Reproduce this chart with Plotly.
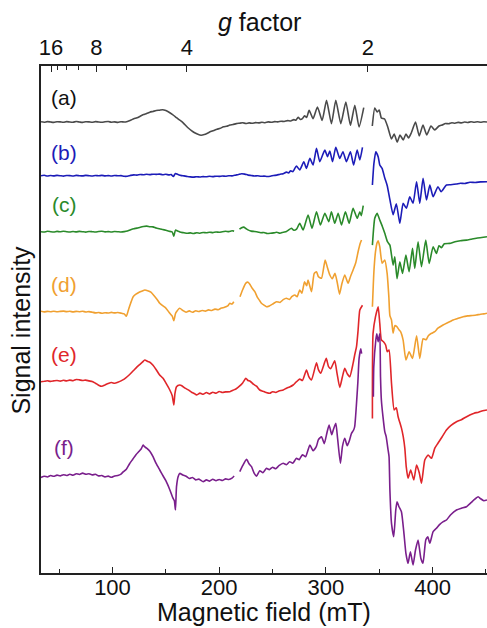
import plotly.graph_objects as go

# ---------------- data ----------------
labels = ["(a)", "(b)", "(c)", "(d)", "(e)", "(f)"]
colors = ["#4a4a4a", "#1c1cb8", "#2a8a2a", "#f0a030", "#e0262a", "#7a1f8c"]
offsets = [451.0, 397.3, 341.3, 261.3, 191.3, 96.3]
label_field = [55, 55, 55, 55, 55, 55]
label_level = [476, 421, 369, 289, 219, 126]

field_a = [33, 36, 39, 42, 45, 48, 51, 54, 57, 60, 63, 66, 69, 72, 75, 78, 81, 84, 87, 90, 93, 96, 99, 102, 105, 108, 111, 114, 117, 120, 123, 126, 129, 132, 135, 138, 141, 144, 147, 150, 153, 156, 159, 162, 165, 168, 171, 174, 177, 180, 183, 186, 189, 192, 195, 198, 201, 204, 207, 210, 213, 216, 219, 222, 225, 228, 231, 234, 237, 240, 243, 246, 249, 252, 255, 258, 261, 264, 267, 270, 272, 274, 276, 278, 280, 282,
           284.3, 288, 292.1, 296.5, 300.6, 305.2, 309.3, 314, 318.7, 323, 327.1, 331.1, 335.5, None,
           343.5, 345.8, 348, 350, 352, 355, 358, 361.5, 364, 366.8, 369.5, 372.5, 375, 377.5, 380, 384, 387.5, 391, 394.5, 398.5, 402, 406, 409, 412, 415, 418, 421, 424, 427, 430, 433, 436, 439, 442, 445, 448, 451]
signal_a = [0.2, -0.3, 0.4, 0, -0.4, 0.3, 0.1, -0.3, 0.4, 0, -0.2, 0.5, 0, -0.4, 0.3, 0.1, -0.3, 0.4, 0, -0.3, 0.2, 0.5, -0.2, 0.1, -0.4, 0.3, 0, 0.6, 1.8, 3.2, 4.2, 5.8, 7.4, 8.5, 9.8, 10.6, 11.5, 11.8, 12.3, 11.4, 9.8, 7.6, 5.2, 2.6, 0.4, -2.8, -6, -8.6, -10.8, -12.3, -13.2, -12.6, -11.2, -9.6, -8.4, -7.2, -6.3, -4.8, -4.2, -3.1, -2.5, -1.6, -1.2, -0.8, -1.5, -0.9, -1.3, -0.6, -0.9, -0.3, -0.7, 0.1, -0.3, 0.4, 0.1, 0.8, 0.5, 1.4, 1, 2.4, 1.8, 4.8, 2.6, 3.4, 6.2, 4.5,
            11.7, 3.3, 15, 1.5, 21.7, -1.7, 21.7, -1.7, 20, -3.3, 16.7, -5, 14.3, None,
            -4, 14, 10, 12, 4, 3, -5, -17, -12, -20, -13, -18, -12, -16, -11, 0, -14, -3, -13, -4, -8, -4, -3, -1.5, -1.8, -0.8, -1.2, -0.4, -0.9, 0, -0.5, 0.2, -0.3, 0.3, -0.2, 0.2, 0]

field_b = [33, 36, 39, 42, 45, 48, 51, 54, 57, 60, 63, 66, 69, 72, 75, 78, 81, 84, 87, 90, 93, 96, 99, 102, 105, 108, 111, 114, 117, 120, 123, 126, 129, 132, 135, 138, 141, 144, 147, 150, 153, 155, 157, 159, 161, 164, 167, 170, 173, 176, 179, 182, 185, 188, 191, 194, 197, 200, 203, 206, 209, 212, 215, 218, 221, 224, 227, 230, 233, 236, 239, 242, 245, 248, 251, 254, 257, 260, 263, 265, 267, 269, 270.5,
           272.4, 275.5, 279.3, 281.8, 285, 288, 291.2, 294.3, 299, 301.5, 303.7, 306.2, 309.3, 313, 316, 319.3, 323, 326, 329.3, 331.8, 334.3, None,
           343.6, 345, 346.8, 349, 350.5, 352.7, 355.2, 357.5, 360, 363, 366, 369.3, 372.4, 375.5, 378.6, 381.7, 385, 388, 391.1, 394.3, 397.4, 400.5, 405, 408, 413, 417, 422.4, 426, 430, 435, 440, 445, 451]
signal_b = [0, 0.4, -0.3, 0.2, -0.2, 0.3, 0, -0.4, 0.2, 0.1, -0.3, 0.3, 0, -0.2, 0.3, 0, -0.3, 0.2, -0.1, 0.3, -0.2, 0.1, -0.3, 0.2, -0.1, 0.1, -0.6, -0.5, 0.3, 0.8, 0.6, 1.2, 0.9, 1.4, 1.1, 1.5, 1.3, 1.6, 1.0, 1.4, 0.8, 1.2, -0.8, 2.2, 1.4, 0.3, -0.2, -0.8, -1.2, -1.4, -1.0, -1.3, -0.9, -1.1, -0.6, -0.9, -0.5, -0.7, -0.3, -0.5, 0, -0.2, 0.5, 1.2, 2.0, 1.6, 0.6, 0.2, -0.3, -0.1, -0.6, -0.4, -0.8, -0.5, 0.2, 0.6, 1.5, 2.0, 3.6, 2.8, 4.8, 4.0, 6.5,
            9.7, 5.7, 14, 7.3, 17.3, 10.7, 27.3, 14, 25.7, 19, 24.7, 14, 28.3, 17.3, 24, 14, 24, 10.7, 25.7, 15.7, 28.3, None,
            -9.3, 12, 24, 19, 10.7, 7.3, -2.3, -10, -24, -39, -28, -47.6, -27.6, -32.6, -21, -27.6, -6, -27.6, -2.6, -24.3, -9.3, -21, -11, -16, -9.3, -9, -8.3, -7.5, -7.8, -6.6, -6.8, -6.2, -6]

field_c = [33, 36, 39, 42, 45, 48, 51, 54, 57, 60, 63, 66, 69, 72, 75, 78, 81, 84, 87, 90, 93, 96, 99, 102, 105, 108, 111, 114, 117, 120, 123, 126, 129, 132, 135, 138, 141, 144, 147, 150, 153, 156, 157.5, 159, 161, 164, 167, 170, 173, 176, 179, 182, 185, 188, 191, 194, 197, 200, 203, 206, 209, 212, 214, None,
           219, 221, 223, 225, 227, 230, 233, 236, 239, 242, 245, 248, 251, 254, 257, 260, 263, 265, 267.7, 270, 272.5, 275.5, 278.7, 283.3, 287, 291.2, 294.9, 299, 302.7, 305.2, 308.3, 311.5, 314.6, 318.3, 321.8, 325.5, 329.3, 331.8, 333.2, 335, None,
           343.6, 345.8, 348, 350.5, 353, 355.2, 357.7, 360, 363, 364.6, 366.7, 369.3, 371.8, 375, 378, 381.2, 383.3, 386.4, 389.6, 393.6, 396.8, 400.5, 403.6, 406, 408.3, 411, 416, 421, 426, 431.8, 436, 441, 446, 451]
signal_c = [0, -0.3, 0.4, 0, -0.3, 0.3, -0.1, 0.4, 0, -0.3, 0.2, -0.2, 0.3, 0, -0.4, 0.2, 0, -0.3, 0.2, 0.4, -0.2, 0.1, -0.3, 0.2, 0, -0.3, 0.1, 0.8, 2.0, 3.0, 3.6, 4.5, 5.2, 5.6, 5.0, 4.8, 3.6, 3.0, 2.2, 1.4, 0.5, -0.3, -4.5, 1.6, 0.8, -0.6, -1.0, -1.6, -1.2, -1.8, -1.1, -1.5, -0.8, -1.1, -0.5, -0.9, -0.3, -0.6, 0, 0.4, 0.1, 1.0, 0.6, None,
            2.5, 4.0, 4.6, 3.2, 1.8, 0.6, 0.2, -0.3, -1.0, -0.8, -1.8, -1.6, -1.2, -0.6, -1.6, -0.5, 0.2, 1.6, 3.4, 1.4, 2.5, 8.4, 1.7, 16.7, 3.4, 20, 6.7, 18.4, 10, 20, 8.4, 18.4, 6.7, 20, 8.4, 23.4, 13.4, 20, 16, 26, None,
            -13.4, 13.4, 18.4, 11.7, 5, -1.6, -10, -13.4, -33.4, -25, -47, -30, -41.7, -23.4, -40, -16.7, -36.7, -10, -35, -8.4, -31.7, -15, -21.7, -14, -16, -12, -11.7, -10, -9, -8.4, -7.5, -6.5, -5.8, -5]

field_d = [33, 36, 39, 42, 45, 48, 51, 54, 57, 60, 63, 66, 69, 72, 75, 78, 81, 84, 87, 90, 93, 96, 99, 102, 105, 108, 111, 113, 115, 117, 119.4, 122, 125, 128, 130.3, 133, 136, 139, 142, 144.3, 147, 150, 153.7, 156, 157.5, 159, 160, 163, 166, 169, 172, 175, 178, 181, 184, 187, 190, 193, 196, 199, 202, 205, 208, 210, 212, 213.7, None,
           219.5, 222, 225, 227.1, 229, 231, 233.4, 236, 238, 239.6, 242, 244.3, 247, 250, 253.7, 257, 260, 263, 266, 268, 270.9, 273, 275.5, 277.5, 280, 282, 283.3, 286.5, 289, 291.2, 293, 295.9, 299.3, 301.5, 303.7, 306, 308.5, 310.5, 312.8, 315, 317.7, 320.8, 323, 325.5, 328, 330.2, 332.2, 333.4, None,
           343.6, 345, 346.5, 348, 349, 350.5, 352.7, 355.2, 357.4, 359, 360, 361.5, 363, 364.6, 366.5, 368.5, 370, 372.4, 375, 378, 381.2, 385, 388, 391.1, 394, 396, 399, 402, 405, 409.8, 414, 419.3, 423, 428.6, 433, 437, 441, 445, 448, 451]
signal_d = [0.4, -0.2, 0.3, 0, 0.5, -0.1, 0.3, 0.6, 0.1, 0.4, -0.2, 0.3, 0, 0.4, -0.3, 0.1, -0.5, -1.2, -0.8, -1.6, -1.0, -1.3, -0.7, -1.2, -0.8, -1.4, -2.2, -4.5, 2.0, 8.5, 15, 17.5, 19.5, 20.8, 21.7, 21, 19.5, 16, 12, 8.4, 6, 3.6, -1.6, -4.5, -9, -2, 0, 3.4, 1.2, -0.5, 0.8, -0.6, 0.9, 0.2, 1.2, 0.6, 1.8, 1.2, 2.6, 2.0, 3.6, 4.4, 5.8, 8.4, 7.6, 10, None,
            15, 22, 28.5, 29.5, 27, 23.4, 20, 14, 11, 8.4, 6.5, 5, 5.8, 7.6, 10, 9.2, 12, 13.4, 12.2, 15, 16.7, 15, 21.7, 18.5, 30, 26, 31.7, 20, 38, 40, 35, 33.4, 51.7, 44, 36.7, 33, 38.4, 30, 17.5, 28, 36.7, 28.4, 35, 41.7, 49, 60, 68.4, 71.7, None,
            5, 40, 60, 69, 71, 65, 48.4, 51.7, 38.4, 15, -4, -8.3, -21.6, -14, -15, -18, -20, -28.4, -48.3, -40, -46.7, -24, -46.7, -27, -28, -24, -21.6, -20, -16.5, -13.3, -11, -8.3, -7, -5, -4.2, -3.8, -3.3, -2.5, -2.2, -1.6]

field_e = [33, 36, 39, 42, 45, 48, 51, 54, 57, 60, 63, 66, 69, 72, 75, 78, 81, 84, 87, 90, 93, 96, 99, 102, 105, 108, 111, 114, 117, 120, 123, 126, 128, 130.3, 133, 135, 138, 141, 144, 147.4, 150, 153.7, 156, 157.5, 158.5, 160, 163, 165, 168, 171, 174, 177, 178.7, 182, 185, 188, 191, 194, 197, 200, 203, 206, 210, 213, 216, 219, 222, 225, 227, 229, 232, 235, 238, 241, 244, 247.4, 250, 253, 256, 260, 263, 266, 269.3, 272, 275.5, 278, 281.8, 284, 286.5, 291.2, 293, 295.2, 300.3, 302.5, 304.5, 308.3, 310.5, 313, 315.5, 317.7, 320, 322.4, 325.5, 327, 328.7, 330.2, 331.8, 334.3, None,
           343.6, 344.2, 346.5, 349, 350.5, 352, 354, 356, 357.5, 359.2, 361.5, 364, 366, 367.7, 370.9, 372.5, 374, 375.3, 377, 379.5, 382.4, 385, 387.5, 389.6, 392.7, 395.8, 399, 402, 405, 409, 413, 417, 422.4, 427, 431, 434.9, 439, 443, 447, 451]
signal_e = [0, 0.4, 0.9, 0.3, 0.8, 1.2, 0.6, 1.4, 0.8, 1.6, 1.0, 2.2, 1.8, 1.2, 1.6, 0.8, 0.2, -1.5, -3.5, -4.6, -3.2, -1.8, -0.8, -1.6, -0.6, 0.8, 2.6, 5.2, 8.2, 11.5, 14.8, 17.6, 19.5, 21.7, 20.2, 19.5, 16.5, 12, 7, 3.4, -1.2, -8.3, -14, -23.3, -12, -5, -3.3, -4, -6.5, -8.2, -10.5, -12, -13.3, -11.4, -12.6, -10.8, -12.2, -10.5, -11.5, -9.8, -10.8, -10.2, -10, -8.5, -7, -4.5, -1.2, 3.3, 1.2, 0.5, -2.5, -4.5, -8.3, -9.5, -10.8, -11.6, -10, -10.8, -9.2, -8.3, -6.5, -5.2, -3.3, -0.5, 2.6, 1.2, 11.7, 5, 1.7, 19, 12, 8.4, 23.3, 15, 13, 21, 8, -5.8, 5, 13.3, 8, 5, 18.3, 26.7, 35, 51.7, 71.7, 76.5, None,
            -36.7, 48.3, 65, 75, 58.3, 41.7, 40, 36.7, 30, 31.7, -1.6, -28.3, -26, -35, -46.7, -55, -66.6, -85, -96.6, -88.3, -98.3, -83.3, -91, -101.6, -78.3, -73.3, -76.6, -66.6, -61.6, -55, -48.3, -44, -40, -38, -35.5, -33.3, -31.5, -30.5, -29, -28.3]

field_f = [33, 36, 39, 42, 45, 48, 51, 54, 57, 60, 63, 66, 69, 72, 75, 78, 81, 84, 87, 90, 93, 96, 99, 102, 105, 108, 110, 113, 116, 119, 122, 125, 127, 128.7, 130, 132, 135, 138, 141, 144.3, 147, 150, 153.7, 156.8, 158, 159, 160, 161.5, 163, 166, 169, 172, 175, 178, 181, 185, 188, 191, 194, 197, 200, 203, 206, 209, 212, 214, None,
           219.3, 222, 225.6, 228, 230.3, 233, 235, 238, 241, 244.3, 247, 250, 253, 256, 260, 263, 266, 269, 272.4, 275, 278, 281, 285, 288, 291, 293, 295.9, 298.5, 301, 303, 305.5, 307, 309.3, 311, 313.6, 315.5, 317.7, 320, 322, 324, 326, 327, 328.5, 330, 331.1, 332.7, 333.5, None,
           344.5, 344.9, 346.8, 347.7, 349, 350.5, 351.2, 352, 353.5, 355.2, 356.5, 358.3, 359.2, 360, 361.5, 363.6, 365.5, 366.7, 368.5, 370.8, 373, 375, 377, 379.2, 381.7, 384, 386.4, 389, 391, 393.6, 395.5, 397.4, 400.5, 403.6, 406.5, 410, 413, 417, 422.4, 427, 431.8, 436, 439, 442.7, 445, 448, 451]
signal_f = [-0.8, 0.5, -0.3, 1.2, 0.4, 1.6, 0.8, 2.0, 1.2, 2.4, 1.5, 3.0, 2.2, 3.6, 2.5, 3.0, 1.8, 2.4, 0.8, 1.2, -0.2, 0.6, -0.5, 0.8, 1.2, 2.6, 4.8, 7.5, 13, 17.5, 22, 25.5, 28, 31.7, 30, 28.5, 25.5, 20, 13, 6.7, 1.5, -4, -13, -21.7, -24, -33.3, -10, 0, 3.3, 1.6, 0.5, -1.8, -0.8, -3.2, -2.4, -5, -3.2, -4.4, -2.6, -4, -2.8, -3.8, -2.2, -2.8, -1.5, 0.7, None,
            5, 11, 17.3, 13, 10, 3, 0.5, 6, 4, 8.4, 7, 9.5, 8, 11, 13.4, 12, 15, 13.5, 18.4, 17, 22, 20, 31.7, 26, 30, 37, 40, 33, 44, 51.7, 42, 47, 53.4, 38, 13.4, 30, 38.4, 31, 36, 43.4, 46.7, 50, 70, 95, 118, 128, 123, None,
            80, 110, 136.7, 143, 135, 143, 100, 76.7, 60, 45, 40, 26.7, 20, -13.3, -46.6, -60, -33.3, -25, -30, -35, -55, -76.6, -86.6, -75, -88.3, -73.3, -63.3, -81.6, -86.6, -63.3, -60, -66.6, -55, -51.6, -48, -45, -43.3, -38, -33.3, -31.5, -30, -26, -23, -20, -22, -24, -23.3]

fields = [field_a, field_b, field_c, field_d, field_e, field_f]
signals = [signal_a, signal_b, signal_c, signal_d, signal_e, signal_f]

field_ticks = [100, 200, 300, 400]
field_minor = [50, 150, 250, 350, 450]
g_ticks = [16, 8, 4, 2]
g_minor = [14, 12, 10, 6]
g2_field = 339.3  # field (mT) where g = 2

# ---------------- figure ----------------
FONT = "Liberation Sans, Arial, sans-serif"
fig = go.Figure()
for f, s, off, col in zip(fields, signals, offsets, colors):
    y = [None if v is None else v + off for v in s]
    fig.add_trace(go.Scatter(x=f, y=y, mode="lines",
                             line=dict(color=col, width=1.6, shape="spline", smoothing=0.5),
                             connectgaps=False, showlegend=False, hoverinfo="skip"))

# invisible trace to activate the top g-factor axis
fig.add_trace(go.Scatter(x=[None], y=[None], xaxis="x2", showlegend=False, hoverinfo="skip"))

for lab, col, bx, ly in zip(labels, colors, label_field, label_level):
    fig.add_annotation(x=bx, y=ly, text=lab, showarrow=False, xanchor="center", yanchor="middle",
                       font=dict(family=FONT, size=21, color="#111111" if lab == "(a)" else col))

# axis titles placed as paper annotations
fig.add_annotation(x=0.5, y=-0.1075, xref="paper", yref="paper", text="Magnetic field (mT)",
                   showarrow=False, xanchor="center", yanchor="bottom",
                   font=dict(family=FONT, size=25, color="#111111"))
fig.add_annotation(x=0.49, y=1.087, xref="paper", yref="paper", text="<i>g</i> factor",
                   showarrow=False, xanchor="center", yanchor="middle",
                   font=dict(family=FONT, size=25, color="#111111"))
fig.add_annotation(x=-0.045, y=0.48, xref="paper", yref="paper", text="Signal intensity",
                   showarrow=False, textangle=-90, xanchor="center", yanchor="middle",
                   font=dict(family=FONT, size=25, color="#111111"))

xr = [33, 451]
g_pos = [2 * g2_field / g for g in g_ticks]
g_minor_pos = [2 * g2_field / g for g in g_minor]

fig.update_layout(
    width=487, height=628,
    margin=dict(l=41, r=0, t=66, b=55),
    plot_bgcolor="white", paper_bgcolor="white",
    font=dict(family=FONT, color="#111111"),
    xaxis=dict(range=xr, showline=True, linecolor="#222222", linewidth=1.5, mirror=False,
               ticks="inside", ticklen=6, tickwidth=1.3, tickcolor="#222222",
               tickvals=field_ticks, ticktext=[str(v) for v in field_ticks],
               minor=dict(tickvals=field_minor, ticks="inside", ticklen=4, tickcolor="#222222", tickwidth=1.2),
               tickfont=dict(size=22), ticklabelstandoff=-6, showgrid=False, zeroline=False, automargin=False),
    xaxis2=dict(range=xr, overlaying="x", side="top", showline=True, linecolor="#222222", linewidth=1.5,
                ticks="inside", ticklen=6, tickwidth=1.3, tickcolor="#222222",
                tickvals=g_pos, ticktext=[str(g) for g in g_ticks],
                minor=dict(tickvals=g_minor_pos, ticks="inside", ticklen=4, tickcolor="#222222", tickwidth=1.2),
                tickfont=dict(size=22), showgrid=False, zeroline=False, automargin=False),
    yaxis=dict(range=[0, 507], showline=True, linecolor="#222222", linewidth=1.5,
               showticklabels=False, ticks="", showgrid=False, zeroline=False, automargin=False),
)

fig.write_html("out.html", config={"displayModeBar": False},
               post_script="document.body.style.margin='0';")
